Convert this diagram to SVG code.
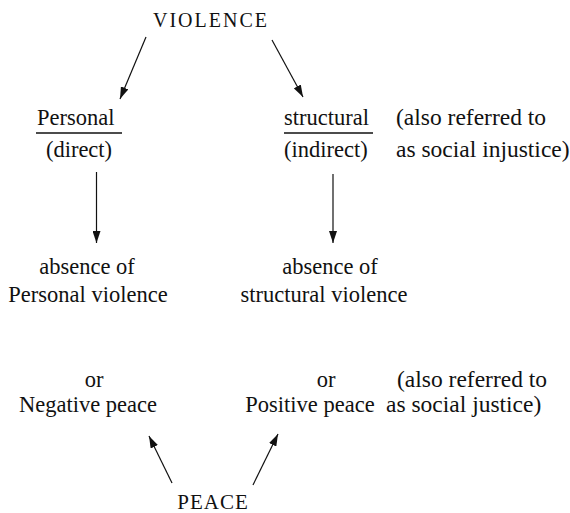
<svg xmlns="http://www.w3.org/2000/svg" width="570" height="513" viewBox="0 0 570 513">
<defs>
<style>
text{font-family:"Liberation Serif","Times New Roman",serif;fill:#111;font-size:22.5px}
.cap{font-size:20px;letter-spacing:2px}
.peace{font-size:21px;letter-spacing:1px}
.note{font-size:23.5px}
.m{text-anchor:middle}
.conn line{stroke:#111;stroke-width:1.2;fill:none}
.ul{stroke:#111;stroke-width:1.6}
</style>
<marker id="ah" viewBox="0 0 12 8" refX="12" refY="4" markerWidth="12" markerHeight="8" markerUnits="userSpaceOnUse" orient="auto">
<path d="M0,0 L12,4 L0,8 z" fill="#111"/>
</marker>
</defs>
<rect width="570" height="513" fill="#fff"/>
<g id="violence"><text class="cap m" x="211" y="27">VIOLENCE</text></g>
<g id="personal">
<text x="37" y="125">Personal</text>
<line class="ul" x1="36" y1="133" x2="122" y2="133"/>
<text class="m" x="79" y="157">(direct)</text>
</g>
<g id="structural">
<text x="284" y="125">structural</text>
<line class="ul" x1="284" y1="133" x2="373" y2="133"/>
<text x="284" y="157">(indirect)</text>
</g>
<g id="note-injustice">
<text class="note" x="396" y="125">(also referred to</text>
<text class="note" x="396" y="157">as social injustice)</text>
</g>
<g id="absence-personal">
<text class="m" x="87" y="274">absence of</text>
<text class="m" x="88" y="302">Personal violence</text>
</g>
<g id="absence-structural">
<text class="m" x="330" y="274">absence of</text>
<text class="m" x="324" y="302">structural violence</text>
</g>
<g id="negative-peace">
<text class="m" x="94" y="387">or</text>
<text class="m" x="88" y="412">Negative peace</text>
</g>
<g id="positive-peace">
<text class="m" x="326" y="387">or</text>
<text class="m" x="310" y="412">Positive peace</text>
</g>
<g id="note-justice">
<text class="note" x="397" y="387">(also referred to</text>
<text class="note" x="386" y="412">as social justice)</text>
</g>
<g id="peace"><text class="peace m" x="213" y="509">PEACE</text></g>
<g id="connectors" class="conn">
<line x1="146" y1="37" x2="120" y2="99" marker-end="url(#ah)"/>
<line x1="272" y1="40" x2="303" y2="97" marker-end="url(#ah)"/>
<line x1="96.5" y1="172" x2="96.5" y2="243" marker-end="url(#ah)"/>
<line x1="333" y1="174" x2="333" y2="243" marker-end="url(#ah)"/>
<line x1="172" y1="483" x2="149" y2="436" marker-end="url(#ah)"/>
<line x1="253" y1="485" x2="278" y2="434" marker-end="url(#ah)"/>
</g>
</svg>
